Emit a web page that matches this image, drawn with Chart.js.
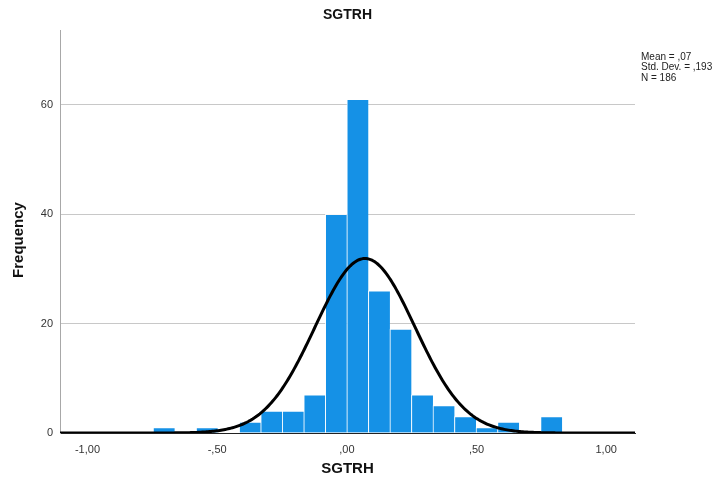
<!DOCTYPE html>
<html>
<head>
<meta charset="utf-8">
<title>SGTRH</title>
<script src="https://cdn.jsdelivr.net/npm/chart.js@4/dist/chart.umd.min.js"></script>
<style>
  html, body { margin: 0; padding: 0; background: #fff; }
  #wrap { width: 723px; height: 488px; position: relative; }
</style>
</head>
<body>
<div id="wrap"><canvas id="hist"></canvas></div>
<script>
// histogram bins (left edge of each bin) and frequencies
const binWidth = 0.083;
const binStarts = [-0.747, -0.664, -0.581, -0.498, -0.415, -0.332, -0.249, -0.166, -0.083, 0.0,
                   0.083, 0.166, 0.249, 0.332, 0.415, 0.498, 0.581, 0.664, 0.747];
const counts = [1, 0, 1, 0, 2, 4, 4, 7, 40, 61, 26, 19, 7, 5, 3, 1, 2, 0, 3];

// summary statistics shown in the corner
const mean = 0.07;
const stdDev = 0.193;
const n = 186;

const xTicks = [-1, -0.5, 0, 0.5, 1];
const yTicks = [0, 20, 40, 60];
const xMin = -1.106, xMax = 1.111, yMax = 73.7;

// spss style decimals: comma, no leading zero
function spssNum(v, digits) {
  let s = Math.abs(v).toFixed(digits).replace('.', ',');
  if (s.startsWith('0,')) s = s.slice(1);
  return (v < 0 ? '-' : '') + s;
}

const barData = binStarts.map((b, i) => ({ x: b + binWidth / 2, y: counts[i] }));

// fitted normal curve, scaled to counts per bin
const curve = [];
for (let i = 0; i <= 400; i++) {
  const x = xMin + (xMax - xMin) * i / 400;
  const z = (x - mean) / stdDev;
  const y = n * binWidth * Math.exp(-0.5 * z * z) / (stdDev * Math.sqrt(2 * Math.PI));
  curve.push({ x: x, y: y });
}

const FONT = "'Liberation Sans', Arial, sans-serif";

const labels = {
  id: 'labels',
  afterDraw(chart) {
    const ctx = chart.ctx;
    const a = chart.chartArea;
    const cx = (a.left + a.right) / 2;
    ctx.save();
    ctx.fillStyle = '#111';
    ctx.textAlign = 'center';
    ctx.textBaseline = 'middle';
    ctx.font = 'bold 14px ' + FONT;
    ctx.fillText('SGTRH', cx, 15);
    ctx.font = 'bold 15px ' + FONT;
    ctx.fillText('SGTRH', cx, 469);
    ctx.save();
    ctx.translate(19, 240);
    ctx.rotate(-Math.PI / 2);
    ctx.fillText('Frequency', 0, 0);
    ctx.restore();
    ctx.font = '10px ' + FONT;
    ctx.textAlign = 'left';
    ctx.fillStyle = '#222';
    ctx.fillText('Mean = ' + spssNum(mean, 2), 641, 57);
    ctx.fillText('Std. Dev. = ' + spssNum(stdDev, 3), 641, 67);
    ctx.fillText('N = ' + n, 641, 78);
    ctx.restore();
  }
};

new Chart(document.getElementById('hist'), {
  type: 'bar',
  data: {
    datasets: [
      {
        type: 'line',
        data: curve,
        borderColor: '#000',
        borderWidth: 3,
        pointRadius: 0,
        tension: 0,
        order: 0
      },
      {
        type: 'bar',
        data: barData,
        backgroundColor: '#1591E6',
        borderColor: 'rgba(255,255,255,0.85)',
        borderWidth: { left: 1, top: 1, right: 0, bottom: 0 },
        borderSkipped: false,
        barPercentage: 1,
        categoryPercentage: 1,
        order: 1
      }
    ]
  },
  options: {
    responsive: true,
    maintainAspectRatio: false,
    animation: false,
    layout: { padding: { left: 0, top: 30, right: 88, bottom: 0 } },
    plugins: { legend: { display: false }, tooltip: { enabled: false }, title: { display: false } },
    scales: {
      x: {
        type: 'linear',
        min: xMin,
        max: xMax,
        offset: false,
        afterBuildTicks: s => { s.ticks = xTicks.map(v => ({ value: v })); },
        afterFit: s => { s.height = 55; },
        ticks: {
          color: '#333',
          padding: 10,
          font: { family: FONT, size: 11 },
          callback: v => spssNum(v, 2)
        },
        grid: { display: false, drawTicks: false },
        border: { color: '#222', width: 1 }
      },
      y: {
        min: 0,
        max: yMax,
        afterBuildTicks: s => { s.ticks = yTicks.map(v => ({ value: v })); },
        afterFit: s => { s.width = 60; },
        ticks: {
          color: '#333',
          padding: 7,
          font: { family: FONT, size: 11 }
        },
        grid: {
          color: ctx => ctx.tick && ctx.tick.value === 0 ? 'rgba(0,0,0,0)' : '#c8c8c8',
          drawTicks: false,
          lineWidth: 1
        },
        border: { color: '#a8a8a8', width: 1 }
      }
    }
  },
  plugins: [labels]
});
</script>
</body>
</html>
